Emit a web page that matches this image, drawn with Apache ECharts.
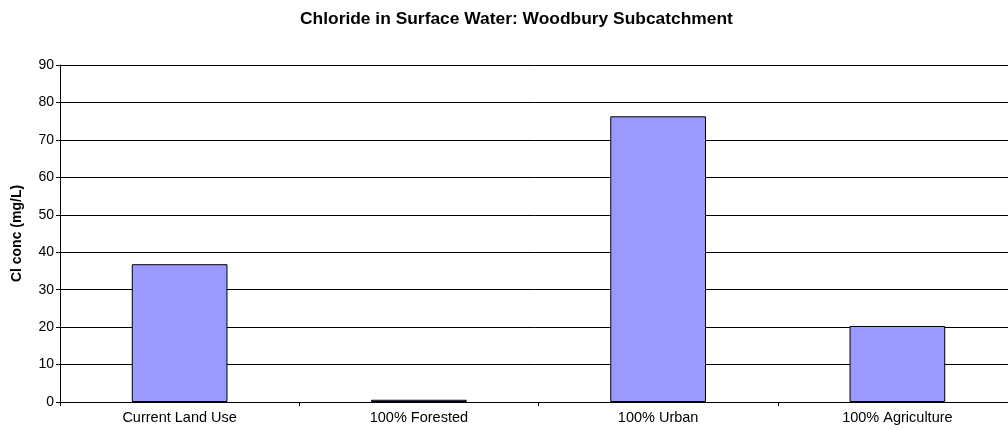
<!DOCTYPE html>
<html>
<head>
<meta charset="utf-8">
<script src="https://cdn.jsdelivr.net/npm/echarts@6/dist/echarts.min.js"></script>
<style>
  html, body { margin: 0; padding: 0; background: #fff; }
  #chart { width: 1008px; height: 430px; }
</style>
</head>
<body>
<div id="chart"></div>
<script>
// Chloride concentration by land-use scenario
const categories = ['Current Land Use', '100% Forested', '100% Urban', '100% Agriculture'];
const chlorideValues = [36.8, 0.6, 76.3, 20.3];
const yTicks = { min: 0, max: 90, interval: 10 };

const chart = echarts.init(document.getElementById('chart'), null, { renderer: 'canvas' });
const font = 'Arial, "Liberation Sans", sans-serif';

chart.setOption({
  animation: false,
  backgroundColor: '#ffffff',
  title: {
    text: 'Chloride in Surface Water: Woodbury Subcatchment',
    left: 295,
    top: 6,
    textStyle: { fontFamily: font, fontSize: 17.4, fontWeight: 'bold', color: '#000' }
  },
  // plot area runs slightly past the right edge of the canvas
  grid: {
    left: 60, width: 957, top: 65, bottom: 28,
    containLabel: false,
    outerBoundsMode: 'none'
  },
  xAxis: {
    type: 'category',
    data: categories,
    axisLine: { lineStyle: { color: '#000', width: 1 } },
    axisTick: { show: true, length: 4, lineStyle: { color: '#000' } },
    axisLabel: { fontFamily: font, fontSize: 14.5, color: '#000', margin: 8 },
    splitLine: { show: false }
  },
  yAxis: {
    type: 'value',
    min: yTicks.min,
    max: yTicks.max,
    interval: yTicks.interval,
    name: 'Cl conc (mg/L)',
    nameLocation: 'middle',
    nameGap: 36,
    nameTextStyle: { fontFamily: font, fontSize: 14, fontWeight: 'bold', color: '#000' },
    axisLine: { show: true, lineStyle: { color: '#000', width: 1 } },
    axisTick: { show: true, length: 4, inside: false, lineStyle: { color: '#000' } },
    axisLabel: { fontFamily: font, fontSize: 14, color: '#000', margin: 6 },
    splitLine: { show: true, lineStyle: { color: '#000', width: 1 } }
  },
  series: [{
    type: 'bar',
    data: chlorideValues,
    barWidth: '40%',
    itemStyle: { color: '#9999FF', borderColor: '#000', borderWidth: 1 }
  }]
});
</script>
</body>
</html>
